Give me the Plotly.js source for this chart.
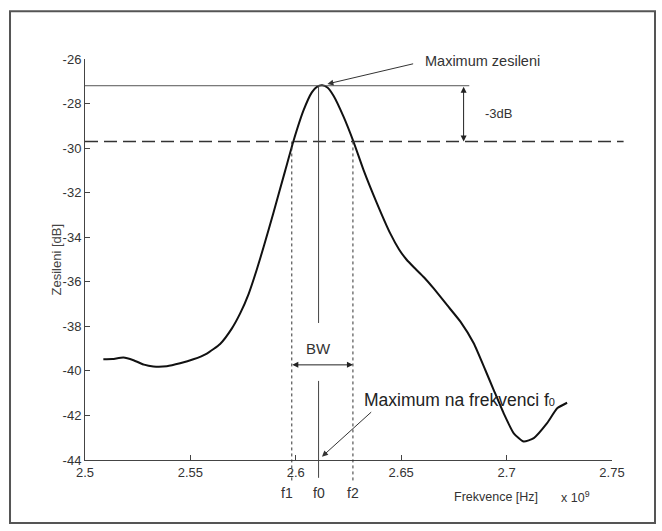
<!DOCTYPE html>
<html>
<head>
<meta charset="utf-8">
<script src="https://cdn.plot.ly/plotly-3.0.1.min.js"></script>
<style>html,body{margin:0;padding:0;background:#fff;} #chart{width:662px;height:531px;}</style>
</head>
<body>
<div id="chart"></div>
<script>
// ---- data (frequency in units of 1e9 Hz, gain in dB) ----
const freqGHz = [2.5087, 2.5130, 2.5182, 2.5230, 2.5280, 2.5324, 2.5388, 2.5451, 2.5514, 2.5578,
  2.5641, 2.5697, 2.5736, 2.5776, 2.5815, 2.5850, 2.5894, 2.5950, 2.5989, 2.6037,
  2.6076, 2.6100, 2.6125, 2.6150, 2.6179, 2.6227, 2.6274, 2.6322, 2.6385, 2.6448,
  2.6490, 2.6525, 2.6560, 2.6610, 2.6654, 2.6717, 2.6781, 2.6844, 2.6899, 2.6939,
  2.6986, 2.7034, 2.7081, 2.7129, 2.7192, 2.7240, 2.7287];
const gainDb = [-39.48, -39.47, -39.40, -39.52, -39.72, -39.80, -39.79, -39.66, -39.48, -39.22,
  -38.79, -38.09, -37.42, -36.55, -35.45, -34.35, -32.90, -31.00, -29.68, -28.30,
  -27.50, -27.25, -27.18, -27.28, -27.65, -28.60, -29.72, -31.00, -32.48, -33.83,
  -34.55, -35.00, -35.35, -35.82, -36.30, -37.04, -37.79, -38.76, -39.96, -40.86,
  -41.90, -42.80, -43.17, -43.02, -42.35, -41.68, -41.43];

const xTickVals = [2.5, 2.55, 2.6, 2.65, 2.7, 2.75];
const xTickText = ['2.5', '2.55', '2.6', '2.65', '2.7', '2.75'];
const yTickVals = [-44, -42, -40, -38, -36, -34, -32, -30, -28, -26];
const yTickText = ['-44', '-42', '-40', '-38', '-36', '-34', '-32', '-30', '-28', '-26'];

// marked frequencies and levels
const f0 = 2.6108, f1 = 2.5981, f2 = 2.6271;
const maxGain = -27.2;
const level3dB = -29.7;
const bwLevel = -39.73;
const dbArrowX = 2.6796;
const maxLineEnd = 2.6823;
const dashLineEnd = 2.7555;

const xMin = 2.5, xMax = 2.75, yMin = -44, yMax = -26;
const px = v => (v - xMin) / (xMax - xMin);
const py = v => (v - yMin) / (yMax - yMin);

const FONT = 'Liberation Sans, Arial, sans-serif';
const TXT = '#333';

const trace = {
  x: freqGHz, y: gainDb, type: 'scatter', mode: 'lines',
  line: {color: '#111', width: 2, shape: 'spline', smoothing: 0.5},
  hoverinfo: 'skip'
};

const shapes = [
  // outer frame
  {type: 'rect', xref: 'paper', yref: 'paper', x0: -0.1423, x1: 1.0816, y0: -0.157, y1: 1.119,
   line: {color: '#555', width: 2}},
  // max gain line
  {type: 'line', xref: 'x', yref: 'y', x0: xMin, x1: maxLineEnd, y0: maxGain, y1: maxGain,
   line: {color: '#555', width: 1}},
  // -3 dB dashed line
  {type: 'line', xref: 'paper', yref: 'y', x0: 0, x1: px(dashLineEnd), y0: level3dB, y1: level3dB,
   line: {color: '#333', width: 1.5, dash: '13px,6px'}},
  // f0 line upper part
  {type: 'line', xref: 'x', yref: 'y', x0: f0, x1: f0, y0: maxGain, y1: -37.85,
   line: {color: '#444', width: 1}},
  // f0 line lower part
  {type: 'line', xref: 'x', yref: 'paper', x0: f0, x1: f0, y0: py(-40.45), y1: py(-44.8),
   line: {color: '#444', width: 1}},
  // f1 / f2 dotted
  {type: 'line', xref: 'x', yref: 'paper', x0: f1, x1: f1, y0: py(level3dB), y1: py(-45.0),
   line: {color: '#333', width: 1, dash: 'dot'}},
  {type: 'line', xref: 'x', yref: 'paper', x0: f2, x1: f2, y0: py(level3dB), y1: py(-45.0),
   line: {color: '#333', width: 1, dash: 'dot'}}
];

const arrowBase = {text: ' ', showarrow: true, font: {size: 1}, borderpad: 0,
  arrowcolor: '#222', arrowwidth: 1, arrowhead: 2, arrowsize: 1.2, axref: 'x', ayref: 'y'};

const annotations = [
  // BW double arrow
  Object.assign({}, arrowBase, {x: f2, y: bwLevel, ax: f1, ay: bwLevel, arrowside: 'end+start'}),
  // -3dB double arrow
  Object.assign({}, arrowBase, {x: dbArrowX, y: level3dB, ax: dbArrowX, ay: maxGain, arrowside: 'end+start'}),
  // arrow to max
  Object.assign({}, arrowBase, {x: 2.6150, y: -27.12, ax: 2.6559, ay: -26.21, arrowcolor: '#333'}),
  // arrow to f0 on axis
  Object.assign({}, arrowBase, {x: 2.6124, y: -43.85, ax: 2.6360, ay: -41.83, arrowcolor: '#333'}),
  // texts
  {text: 'Maximum zesileni', x: 2.6605, y: -26.10, xref: 'x', yref: 'y', xanchor: 'left', yanchor: 'middle',
   showarrow: false, font: {family: FONT, size: 14.5, color: TXT}},
  {text: '-3dB', x: 2.6890, y: -28.43, xref: 'x', yref: 'y', xanchor: 'left', yanchor: 'middle',
   showarrow: false, font: {family: FONT, size: 13, color: TXT}},
  {text: 'BW', x: f0, y: -39.0, xref: 'x', yref: 'y', xanchor: 'center', yanchor: 'middle',
   showarrow: false, font: {family: FONT, size: 15, color: TXT}},
  {text: 'Maximum na frekvenci f<span style="font-size:11px">0</span>', x: 2.6315, y: -41.30, xref: 'x', yref: 'y', xanchor: 'left', yanchor: 'middle',
   showarrow: false, font: {family: FONT, size: 17.5, color: '#222'}},
  {text: 'f1', x: f1, y: py(-45.47), xref: 'x', yref: 'paper', xanchor: 'center', yanchor: 'middle', xshift: -5,
   showarrow: false, font: {family: FONT, size: 14, color: TXT}},
  {text: 'f0', x: f0, y: py(-45.47), xref: 'x', yref: 'paper', xanchor: 'center', yanchor: 'middle',
   showarrow: false, font: {family: FONT, size: 14, color: TXT}},
  {text: 'f2', x: f2, y: py(-45.47), xref: 'x', yref: 'paper', xanchor: 'center', yanchor: 'middle',
   showarrow: false, font: {family: FONT, size: 14, color: TXT}},
  {text: 'Frekvence [Hz]', x: 2.6952, y: py(-45.65), xref: 'x', yref: 'paper', xanchor: 'center', yanchor: 'middle',
   showarrow: false, font: {family: FONT, size: 12.5, color: TXT}},
  {text: 'x 10<sup>9</sup>', x: 2.7327, y: py(-45.65), xref: 'x', yref: 'paper', xanchor: 'center', yanchor: 'middle',
   showarrow: false, font: {family: FONT, size: 12.5, color: TXT}},
  {text: 'Zesileni [dB]', x: -0.0550, y: 0.5, xref: 'paper', yref: 'paper', xanchor: 'center', yanchor: 'middle',
   textangle: -90, showarrow: false, font: {family: FONT, size: 13, color: '#444'}}
];

const layout = {
  width: 662, height: 531,
  margin: {l: 85, r: 50, t: 59, b: 71},
  paper_bgcolor: '#fff', plot_bgcolor: '#fff',
  showlegend: false,
  font: {family: FONT, color: TXT},
  xaxis: {range: [xMin, xMax], tickvals: xTickVals, ticktext: xTickText, showgrid: false, zeroline: false,
    showline: true, linecolor: '#444', linewidth: 1, ticks: 'inside', ticklen: 5, tickcolor: '#444',
    tickfont: {family: FONT, size: 13, color: TXT}, fixedrange: true},
  yaxis: {range: [yMin, yMax], tickvals: yTickVals, ticktext: yTickText, showgrid: false, zeroline: false,
    showline: true, linecolor: '#444', linewidth: 1, ticks: 'inside', ticklen: 5, tickcolor: '#444',
    tickfont: {family: FONT, size: 13, color: TXT}, fixedrange: true},
  shapes: shapes,
  annotations: annotations
};

Plotly.newPlot('chart', [trace], layout, {displayModeBar: false, staticPlot: true});
</script>
</body>
</html>
